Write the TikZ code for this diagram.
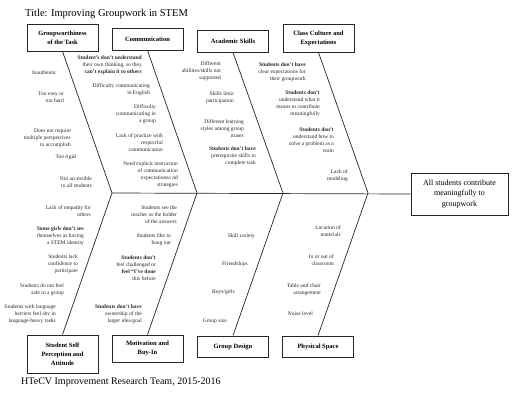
\documentclass[tikz,border=0pt]{standalone}
\usepackage{fontspec}
\setmainfont{Liberation Serif}

\tikzset{
  cause/.style={draw=black!85,line width=0.8pt,align=center,inner sep=1pt,minimum width=71pt,font=\fontsize{6.5}{9}\selectfont\bfseries},
  item/.style={anchor=east,align=right,inner sep=0pt,text=black!85,font=\fontsize{5.5}{7}\selectfont},
  bone/.style={line width=0.7pt,draw=black!85}
}

\begin{document}
\begin{tikzpicture}[x=1pt,y=-1pt]
    \useasboundingbox (0,0) rectangle (512,400);
    \coordinate (J1) at (112,193);
    \coordinate (J2) at (197,193);
    \coordinate (J3) at (283,193);
    \coordinate (J4) at (368,193);

    \node[anchor=west,inner sep=0pt,font=\fontsize{10.5}{12.5}\selectfont] (Title) at (25,14) {Title: Improving Groupwork in STEM};
    \node[anchor=west,inner sep=0pt,font=\fontsize{10}{12}\selectfont] (Footer) at (21,382) {HTeCV Improvement Research Team, 2015-2016};

    \node[draw=black!85,line width=0.8pt,minimum width=97pt,minimum height=42pt,align=center,font=\fontsize{8}{10.8}\selectfont] (Result) at (459.5,194) {All students contribute\\meaningfully to\\groupwork};

    % cause boxes
    \node[cause,minimum height=27pt] (TaskBox) at (62.5,37.5) {Groupworthiness\\of the Task};
    \node[cause,minimum height=22pt] (CommBox) at (147.5,39) {Communication};
    \node[cause,minimum height=22pt] (SkillBox) at (233,41) {Academic Skills};
    \node[cause,minimum height=28pt] (CultureBox) at (318.5,38) {Class Culture and\\Expectations};
    \node[cause,minimum height=38pt] (SelfBox) at (62.5,354) {Student Self\\Perception and\\Attitude};
    \node[cause,minimum height=27pt] (MotivBox) at (147.5,348.5) {Motivation and\\Buy-In};
    \node[cause,minimum height=21pt] (GroupBox) at (233,346.5) {Group Design};
    \node[cause,minimum height=21pt] (SpaceBox) at (318,346.5) {Physical Space};

    \draw[bone] (J1)--(Result.west);
    \draw[bone] (TaskBox.south)--(J1)--(SelfBox.north);
    \draw[bone] (CommBox.south)--(J2)--(MotivBox.north);
    \draw[bone] (SkillBox.south)--(J3)--(GroupBox.north);
    \draw[bone] (CultureBox.south)--(J4)--(SpaceBox.north);

    % Groupworthiness of the Task
    \node[item] (T1) at (57,73) {Inauthentic};
    \node[item] (T2) at (64,97) {Too easy or\\too hard};
    \node[item] (T3) at (71,138) {Does not require\\multiple perspectives\\to accomplish};
    \node[item] (T4) at (76,157) {Too rigid};
    \node[item] (T5) at (92,182) {Not accessible\\to all students};

    % Communication
    \node[item] (C1) at (142,65) {\textbf{Student's don't understand}\\their own thinking, so they\\\textbf{can't explain it to others}};
    \node[item] (C2) at (150,90) {Difficulty communicating\\in English};
    \node[item] (C3) at (156,114.5) {Difficulty\\communicating in\\a group};
    \node[item] (C4) at (163,143) {Lack of practice with\\respectful\\communication};
    \node[item] (C5) at (178,175) {Need explicit instruction\\of communication\\expectationsa nd\\strategies};

    % Academic Skills
    \node[item] (A1) at (221,71.5) {Different\\abilities/skills not\\supported};
    \node[item] (A2) at (234,97.5) {Skills limit\\participation};
    \node[item] (A3) at (244,128.5) {Different learning\\styles among group\\mates};
    \node[item] (A4) at (256,156.5) {\textbf{Students don't have}\\prerequisite skills to\\complete task};

    % Class Culture and Expectations
    \node[item] (K1) at (306,72) {\textbf{Students don't have}\\clear expectations for\\their groupwork};
    \node[item] (K2) at (320,104) {\textbf{Students don't}\\understand what it\\means to contribute\\meaningfully};
    \node[item] (K3) at (334,140) {\textbf{Students don't}\\understand how to\\solve a problem as a\\team};
    \node[item] (K4) at (348,175.5) {Lack of\\modeling};

    % Student Self Perception and Attitude
    \node[item] (S1) at (91,211) {Lack of empathy for\\others};
    \node[item] (S2) at (84,236) {\textbf{Some girls don't see}\\themselves as having\\a STEM identity};
    \node[item] (S3) at (78,264.5) {Students lack\\confidence to\\participate};
    \node[item] (S4) at (64,289.5) {Students do not feel\\safe in a group};
    \node[item] (S5) at (56,314) {Students with language\\barriers feel shy in\\language-heavy tasks};

    % Motivation and Buy-In
    \node[item] (M1) at (177,214.5) {Students see the\\teacher as the holder\\of the answers};
    \node[item] (M2) at (171,239.5) {Students like to\\hang out};
    \node[item] (M3) at (156,268) {\textbf{Students don't}\\feel challenged or\\\textbf{feel ``I've done}\\this before};
    \node[item] (M4) at (142,314) {\textbf{Students don't have}\\ownership of the\\larger idea/goal};

    % Group Design
    \node[item] (G1) at (255,236) {Skill variety};
    \node[item] (G2) at (248,264) {Friendships};
    \node[item] (G3) at (235,292) {Boys/girls};
    \node[item] (G4) at (227,321) {Group size};

    % Physical Space
    \node[item] (P1) at (341,231.5) {Location of\\materials};
    \node[item] (P2) at (334,260.5) {In or out of\\classroom};
    \node[item] (P3) at (321,289.5) {Table and chair\\arrangement};
    \node[item] (P4) at (313,314) {Noise level};
\end{tikzpicture}
\end{document}
